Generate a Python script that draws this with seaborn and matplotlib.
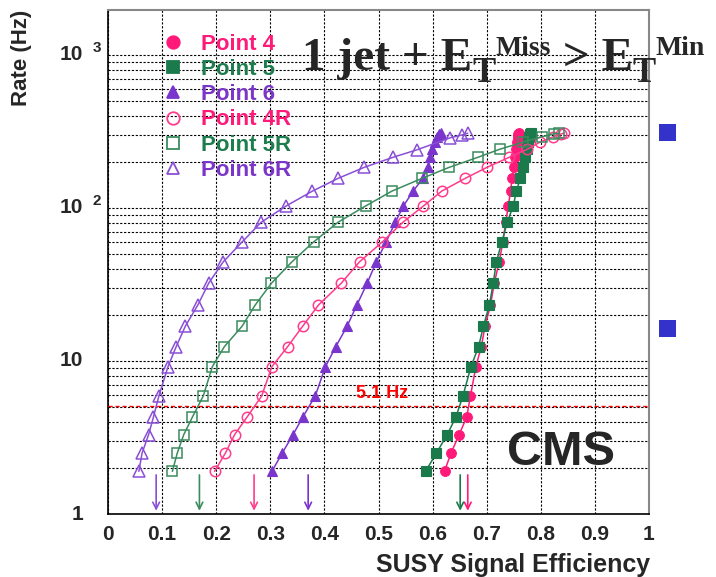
import matplotlib
matplotlib.use("Agg")
import matplotlib.pyplot as plt
from matplotlib.lines import Line2D
from matplotlib.patches import Rectangle
from matplotlib.ticker import FixedLocator, LogLocator, MultipleLocator, NullFormatter
import pandas as pd
import seaborn as sns

# ---- data -------------------------------------------------------------
rate_hz = [1.9, 2.5, 3.3, 4.3, 5.9, 9.2, 12.4, 16.9, 23.2, 32.2, 44.5, 60,
           80.6, 103, 129, 156, 184, 214, 242, 270, 292, 305, 308]
rate_6r_hz = [1.9, 2.5, 3.3, 4.3, 5.9, 9.2, 12.4, 16.9, 23.2, 32.2, 44.5, 60,
              80.6, 103, 129, 156, 184, 214, 240, 288, 300, 308]

eff_point4 = [0.622, 0.634, 0.649, 0.663, 0.670, 0.680, 0.690, 0.697, 0.707,
              0.714, 0.723, 0.730, 0.735, 0.740, 0.744, 0.747, 0.750, 0.752,
              0.755, 0.756, 0.757, 0.758, 0.759]
eff_point5 = [0.587, 0.607, 0.627, 0.643, 0.656, 0.671, 0.685, 0.694, 0.705,
              0.712, 0.718, 0.728, 0.738, 0.749, 0.755, 0.762, 0.767, 0.771,
              0.775, 0.777, 0.779, 0.780, 0.781]
eff_point6 = [0.303, 0.322, 0.342, 0.360, 0.383, 0.402, 0.421, 0.442, 0.460,
              0.479, 0.496, 0.514, 0.531, 0.546, 0.564, 0.582, 0.591, 0.596,
              0.599, 0.605, 0.608, 0.612, 0.615]
eff_point4r = [0.197, 0.217, 0.234, 0.257, 0.284, 0.303, 0.332, 0.360, 0.389,
               0.431, 0.465, 0.507, 0.545, 0.583, 0.617, 0.660, 0.700, 0.741,
               0.775, 0.799, 0.823, 0.838, 0.842]
eff_point5r = [0.119, 0.128, 0.140, 0.156, 0.176, 0.193, 0.215, 0.248, 0.272,
               0.302, 0.340, 0.380, 0.425, 0.476, 0.525, 0.580, 0.630, 0.683,
               0.724, 0.768, 0.802, 0.824, 0.834]
eff_point6r = [0.057, 0.063, 0.075, 0.084, 0.094, 0.111, 0.126, 0.143, 0.166,
               0.186, 0.213, 0.248, 0.283, 0.329, 0.378, 0.425, 0.473, 0.526,
               0.571, 0.633, 0.654, 0.665]

series_names = ["Point 4", "Point 5", "Point 6", "Point 4R", "Point 5R", "Point 6R"]
series_eff = [eff_point4, eff_point5, eff_point6, eff_point4r, eff_point5r, eff_point6r]
series_rate = [rate_hz, rate_hz, rate_hz, rate_hz, rate_hz, rate_6r_hz]
series_colors = ["#FF1A7A", "#1A7A4C", "#7A35CC", "#FF3C8C", "#3A8C5E", "#8A4FD6"]
label_colors = ["#FF1A7A", "#1E7D4E", "#7B35C8", "#FF1A7A", "#1E7D4E", "#7B35C8"]
series_markers = ["o", "s", "^", "o", "s", "^"]
series_filled = [True, True, True, False, False, False]

# efficiency reached at the 5.1 Hz rate budget (arrows on the x axis)
threshold_hz = 5.1
eff_at_threshold = [0.665, 0.651, 0.370, 0.270, 0.169, 0.089]

x_ticks = [0, 0.1, 0.2, 0.3, 0.4, 0.5, 0.6, 0.7, 0.8, 0.9, 1.0]
x_tick_labels = ["0", "0.1", "0.2", "0.3", "0.4", "0.5", "0.6", "0.7", "0.8", "0.9", "1"]
y_ticks = [1, 10, 100, 1000]
y_tick_base = ["1", "10", "10", "10"]
y_tick_exp = ["", "", "2", "3"]

# title pieces: (text, font size, baseline shift in pixels)
title_pieces = [("1 jet + E", 34, 0), ("T", 25, -12), ("Miss", 20, 15),
                (" > E", 34, 0), ("T", 25, -12), ("Min", 20, 15)]

df = pd.DataFrame({
    "series": [n for n, e in zip(series_names, series_eff) for _ in e],
    "efficiency": [v for e in series_eff for v in e],
    "rate": [v for r in series_rate for v in r],
})

# ---- style ------------------------------------------------------------
sns.set_style("white")
plt.rcParams["font.family"] = ["Liberation Sans", "DejaVu Sans"]
plt.rcParams["font.weight"] = "bold"

W, H = 716, 577
fig = plt.figure(figsize=(W / 100, H / 100), dpi=100)
fig.patch.set_facecolor("white")
ax = fig.add_axes([108 / W, 63 / H, 541 / W, 504 / H])

# ---- curves -----------------------------------------------------------
for name, color, mk, filled in zip(series_names, series_colors, series_markers, series_filled):
    sub = df[df["series"] == name]
    ms = 7 if filled else 7.5
    if mk == "^":
        ms += 0.5
    sns.lineplot(data=sub, x="efficiency", y="rate", ax=ax, sort=False,
                 estimator=None, color=color, linewidth=1.1, marker=mk,
                 markersize=ms,
                 markerfacecolor=color if filled else "none",
                 markeredgecolor=color,
                 markeredgewidth=0.8 if filled else 1.1,
                 legend=False, zorder=4)

ax.set_yscale("log")
ax.set_xlim(0, 1)
ax.set_ylim(1, 1968)

# rate budget line and label
ax.axhline(threshold_hz, color="#FF0000", linestyle=(0, (3, 2)), linewidth=1.0, zorder=3)
ax.text(0.459, threshold_hz * 1.2, f"{threshold_hz} Hz", color="#FF0000",
        fontsize=13, fontweight="bold", ha="left", va="center", zorder=5)

# arrows marking the efficiency at the rate budget
for eff, color in zip(eff_at_threshold, series_colors):
    ax.annotate("", xy=(eff, 1.05), xytext=(eff, 1.8),
                arrowprops=dict(arrowstyle="->", color=color, lw=1.2,
                                shrinkA=0, shrinkB=0, mutation_scale=12),
                zorder=5)

# ---- grid, ticks, spines ----------------------------------------------
grid_kw = dict(color="black", linestyle=(0, (2, 1.5)), linewidth=0.8)
ax.yaxis.set_major_locator(FixedLocator(y_ticks))
ax.yaxis.set_minor_locator(LogLocator(base=10, subs=range(2, 10)))
ax.yaxis.set_minor_formatter(NullFormatter())
ax.grid(True, which="both", axis="y", **grid_kw)
ax.xaxis.set_major_locator(FixedLocator(x_ticks))
ax.xaxis.set_minor_locator(MultipleLocator(0.02))
ax.grid(True, which="major", axis="x", **grid_kw)
ax.set_axisbelow(True)

ax.set_xticklabels(x_tick_labels, fontsize=15, fontweight="bold")
ax.tick_params(axis="x", which="major", direction="out", length=5, width=1, pad=3)
ax.tick_params(axis="x", which="minor", direction="out", length=3, width=0.8)
ax.tick_params(axis="y", which="major", direction="out", length=5, width=1)
ax.tick_params(axis="y", which="minor", direction="out", length=3, width=0.8)
ax.set_yticklabels([""] * len(y_ticks))

ytrans = ax.get_yaxis_transform()
for val, base, exp in zip(y_ticks, y_tick_base, y_tick_exp):
    ax.annotate(base, xy=(0, val), xycoords=ytrans, xytext=(-18, 0),
                textcoords="offset points", ha="right", va="center",
                fontsize=15, fontweight="bold", annotation_clip=False)
    if exp:
        ax.annotate(exp, xy=(0, val), xycoords=ytrans, xytext=(-5, 5),
                    textcoords="offset points", ha="right", va="center",
                    fontsize=11, fontweight="bold", annotation_clip=False)

for side in ("left", "bottom"):
    ax.spines[side].set_color("black")
    ax.spines[side].set_linewidth(1.2)
for side in ("top", "right"):
    ax.spines[side].set_color("#888888")
    ax.spines[side].set_linewidth(1.5)

ax.set_xlabel("")
ax.set_ylabel("")
fig.text(22 / W, 1 - 10 / H, "Rate (Hz)", rotation=90, ha="center", va="top",
         fontsize=16, fontweight="bold")
fig.text(650 / W, 1 - 565 / H, "SUSY Signal Efficiency", ha="right", va="center",
         fontsize=18, fontweight="bold")

# ---- legend -----------------------------------------------------------
handles = [Line2D([], [], linestyle="none", marker=mk, color=c, markersize=9,
                  markerfacecolor=c if f else "none", markeredgecolor=c,
                  markeredgewidth=1.3)
           for c, mk, f in zip(series_colors, series_markers, series_filled)]
leg = ax.legend(handles, series_names, loc="upper left",
                bbox_to_anchor=(0.10, 0.953), frameon=False, fontsize=16,
                handlelength=1.0, handletextpad=0.75, labelspacing=0.19,
                borderpad=0, borderaxespad=0)
for txt, c in zip(leg.get_texts(), label_colors):
    txt.set_color(c)
    txt.set_fontweight("bold")

# ---- title: laid out piece by piece with sub/superscripts ----------------
renderer = fig.canvas.get_renderer()
x_px = 302.0
base_px = H - 70.0
for text, size, shift in title_pieces:
    t = fig.text(x_px / W, (base_px + shift) / H, text, ha="left", va="baseline",
                 fontsize=size, fontweight="bold",
                 family=["Liberation Serif", "DejaVu Serif"])
    x_px += t.get_window_extent(renderer).width

ax.text(0.838, 2.54, "CMS", fontsize=35, fontweight="bold",
        ha="center", va="center", zorder=5)

for y0 in (124, 320):
    fig.add_artist(Rectangle((659 / W, 1 - (y0 + 17) / H), 17 / W, 17 / H,
                             transform=fig.transFigure, facecolor="#3333CC",
                             edgecolor="none"))

fig.savefig("out.png", dpi=100, facecolor="white")
